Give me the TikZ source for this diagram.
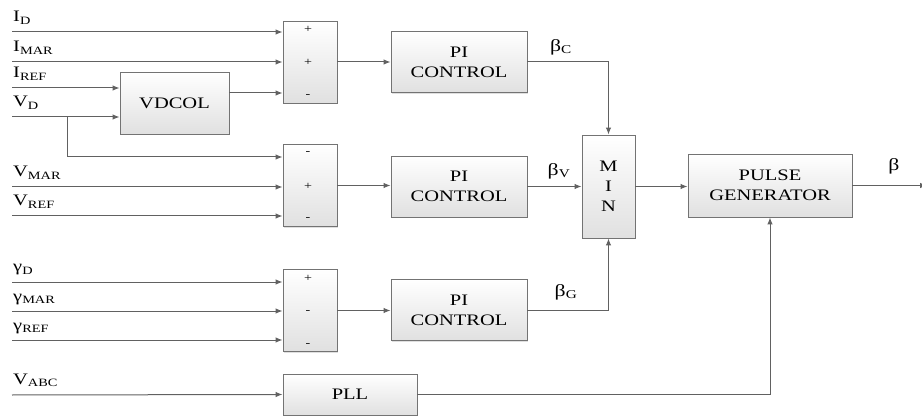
\documentclass[tikz,border=0pt]{standalone}
\usepackage{fontspec}
\setmainfont[FakeStretch=1.28]{Liberation Serif}
\usetikzlibrary{arrows.meta,shadows}

\tikzset{
  blk/.style={draw=black!55, line width=0.9pt, top color=white, bottom color=black!12,
    font=\fontsize{16}{20}\selectfont, align=center, inner sep=0pt,
    drop shadow={shadow xshift=1.2pt, shadow yshift=-1.2pt, opacity=0.25}},
  sumbox/.style={blk, minimum width=54pt, minimum height=82pt},
  piblk/.style={blk, minimum width=136pt, minimum height=61pt},
  sgn/.style={font=\fontsize{11}{11}\selectfont, inner sep=0pt},
  arr/.style={draw=black!62, line width=1pt, -{Latex[length=7pt,width=5.5pt]}},
  lbl/.style={font=\fontsize{16}{17}\selectfont, inner sep=0pt, anchor=base west},
  blbl/.style={font=\fontsize{17}{17}\selectfont, inner sep=0pt},
}

\begin{document}
\begin{tikzpicture}[x=1pt,y=-1pt]
        \useasboundingbox (0,0) rectangle (922,417);

        % Summing blocks
        \node[sumbox] (sumI) at (310,62) {};
        \node[sumbox] (sumV) at (310,185.5) {};
        \node[sumbox] (sumG) at (310,310.5) {};

        % Signs
        \foreach \y/\s [count=\i] in {29/+,62/+,96/-,153/-,186/+,219/-,278/+,312/-,345/-}
            \node[sgn] (sg\i) at (308,\y) {\s};

        % Blocks
        \node[blk, minimum width=109pt, minimum height=62pt] (vdcol) at (174.5,103) {VDCOL};
        \node[piblk] (piC) at (459,62) {PI\\CONTROL};
        \node[piblk] (piV) at (459,186.5) {PI\\CONTROL};
        \node[piblk] (piG) at (459,310) {PI\\CONTROL};
        \node[blk, minimum width=53pt, minimum height=103pt] (minb) at (608.5,186.5) {M\\I\\N};
        \node[blk, minimum width=164pt, minimum height=63pt] (pulse) at (770,185.5) {PULSE\\GENERATOR};
        \node[blk, minimum width=134pt, minimum height=41pt] (pll) at (350,394.5) {PLL};

        % Inputs to summing blocks
        \foreach \n/\y/\b/\t in {iD/32/sumI/I\textsubscript{D}, iMAR/62/sumI/I\textsubscript{MAR},
                                 vMAR/187/sumV/V\textsubscript{MAR}, vREF/216/sumV/V\textsubscript{REF},
                                 gD/282/sumG/γ\textsubscript{D}, gMAR/311/sumG/γ\textsubscript{MAR},
                                 gREF/340/sumG/γ\textsubscript{REF}}
        {
            \coordinate (\n) at (12,\y);
            \node[lbl] (l\n) at (13,\y-10) {\t};
            \draw[arr] (\n) -- (\n -| \b.west);
        }

        % Inputs to VDCOL
        \coordinate (iREF) at (12,88);
        \coordinate (vD) at (12,117);
        \coordinate (br) at (67,117);
        \node[lbl] (liREF) at (13,78) {I\textsubscript{REF}};
        \node[lbl] (lvD) at (13,107) {V\textsubscript{D}};
        \draw[arr] (iREF) -- (iREF -| vdcol.west);
        \draw[arr] (vD) -- (vD -| vdcol.west);
        \draw[arr] (br) |- ([yshift=28.5pt]sumV.west);
        \draw[arr] ([yshift=10pt]vdcol.east -| vdcol.east) -- ([yshift=10pt]vdcol.east -| sumI.west);

        % PLL input
        \coordinate (vABC) at (12,395);
        \node[lbl] (lvABC) at (13,384) {V\textsubscript{ABC}};
        \draw[arr] (vABC) -- (pll.west);

        % Controllers
        \draw[arr] (sumI.east) -- (piC.west);
        \draw[arr] (sumV.east) -- (sumV.east -| piV.west);
        \draw[arr] (sumG.east) -- (sumG.east -| piG.west);

        % To MIN
        \draw[arr] (piC.east) -| (minb.north);
        \draw[arr] (piV.east) -- (minb.west);
        \draw[arr] (piG.east) -| (minb.south);
        \node[blbl] (bC) at (561,47) {β\textsubscript{C}};
        \node[blbl] (bV) at (559,171) {β\textsubscript{V}};
        \node[blbl] (bG) at (566,292) {β\textsubscript{G}};

        % Pulse generator
        \draw[arr] (minb.east) -- (minb.east -| pulse.west);
        \draw[arr] (pll.east) -| (pulse.south);
        \coordinate (out) at (927,185.5);
        \draw[arr] (pulse.east) -- (out);
        \node[blbl] (b) at (894,166) {β};

    \end{tikzpicture}
\end{document}
